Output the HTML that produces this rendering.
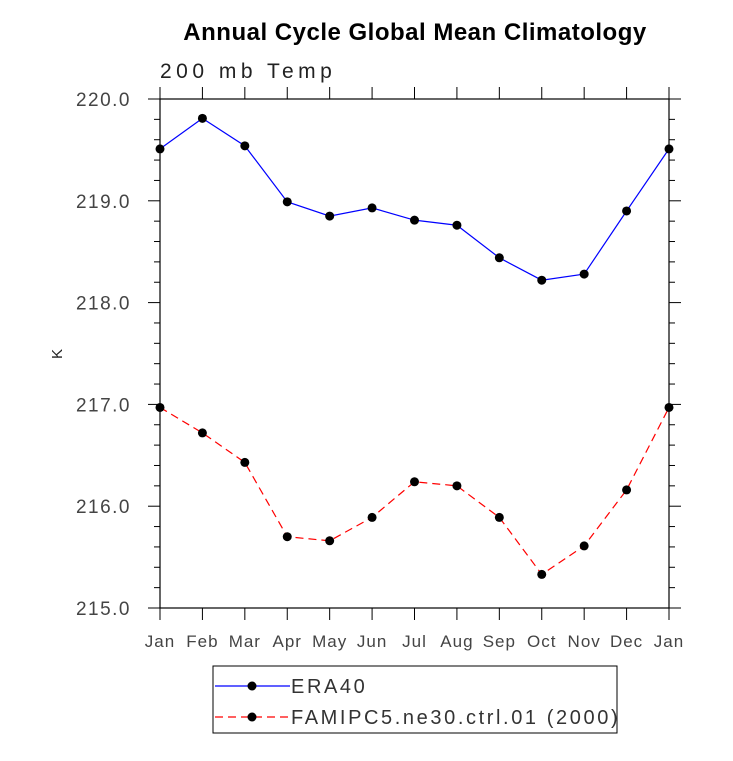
<!DOCTYPE html>
<html><head><meta charset="utf-8"><style>
body{margin:0;background:#fff}
svg text{font-family:"Liberation Sans","DejaVu Sans",sans-serif}
</style></head><body>
<svg id="chart" width="733" height="756" xmlns="http://www.w3.org/2000/svg">
<text x="415" y="40" text-anchor="middle" font-size="24" font-weight="bold" letter-spacing="0.5">Annual Cycle Global Mean Climatology</text>
<text x="160" y="78" font-size="21" fill="#222" letter-spacing="4.5">200 mb Temp</text>
<text transform="translate(62,354) rotate(-90)" text-anchor="middle" font-size="15" fill="#222">K</text>
<g id="axes"></g>
<g id="series"></g>
<g>
<rect x="213" y="666" width="404" height="67" fill="none" stroke="#000" stroke-width="1"/>
<line x1="215" y1="686" x2="290" y2="686" stroke="#0000ff" stroke-width="1.2"/>
<circle cx="252" cy="686" r="4.5" fill="#000"/>
<text x="291" y="693" font-size="20" fill="#333" letter-spacing="2.6">ERA40</text>
<line x1="215" y1="717" x2="290" y2="717" stroke="#ff0000" stroke-width="1.2" stroke-dasharray="8,5"/>
<circle cx="252" cy="717" r="4.5" fill="#000"/>
<text x="291" y="724" font-size="20" fill="#333" letter-spacing="2.6">FAMIPC5.ne30.ctrl.01 (2000)</text>
</g>
</svg>
<script>
const months=["Jan","Feb","Mar","Apr","May","Jun","Jul","Aug","Sep","Oct","Nov","Dec","Jan"];
const era40=[219.51,219.81,219.54,218.99,218.85,218.93,218.81,218.76,218.44,218.22,218.28,218.90,219.51];
const famip=[216.97,216.72,216.43,215.70,215.66,215.89,216.24,216.20,215.89,215.33,215.61,216.16,216.97];
const yTicks=[215,216,217,218,219,220];
const yTickLabels=["215.0","216.0","217.0","218.0","219.0","220.0"];
const NS="http://www.w3.org/2000/svg";
const L=160,R=669,T=99,B=608,ymin=215,ymax=220;
const xs=i=>L+(R-L)*i/(months.length-1);
const ys=v=>B-(v-ymin)/(ymax-ymin)*(B-T);
const axes=document.getElementById('axes'),ser=document.getElementById('series');
function mk(t,a,p){const e=document.createElementNS(NS,t);for(const k in a)e.setAttribute(k,a[k]);p.appendChild(e);return e;}
const frame=mk('rect',{x:L,y:T,width:R-L,height:B-T,fill:'none',stroke:'#000','stroke-width':1.2},axes);


months.forEach((m,i)=>{const x=xs(i);
mk('line',{x1:x,y1:B,x2:x,y2:B+12,stroke:'#000'},axes);
mk('line',{x1:x,y1:T,x2:x,y2:T-12,stroke:'#000'},axes);
const t=mk('text',{x:x,y:B+39,'text-anchor':'middle','font-size':17,fill:'#444','letter-spacing':1},axes);t.textContent=m;

});
for(let v=ymin;v<=ymax+1e-6;v+=0.2){const y=ys(v);const major=Math.abs(v-Math.round(v))<1e-6;const len=major?12:6;
mk('line',{x1:L,y1:y,x2:L-len,y2:y,stroke:'#000'},axes);
mk('line',{x1:R,y1:y,x2:R+len,y2:y,stroke:'#000'},axes);}
yTicks.forEach((v,i)=>{const t=mk('text',{x:131,y:ys(v)+7,'text-anchor':'end','font-size':19,fill:'#444','letter-spacing':1.5},axes);t.textContent=yTickLabels[i];

});
function draw(data,color,dash,name){
const pl=mk('polyline',{points:data.map((v,i)=>xs(i)+','+ys(v)).join(' '),fill:'none',stroke:color,'stroke-width':1.2,'stroke-dasharray':dash},ser);


data.forEach((v,i)=>{const c=mk('circle',{cx:xs(i),cy:ys(v),r:4.5,fill:'#000'},ser);

});}
draw(era40,'#0000ff','none','era40');
draw(famip,'#ff0000','8,5','famip');
</script>
</body></html>
